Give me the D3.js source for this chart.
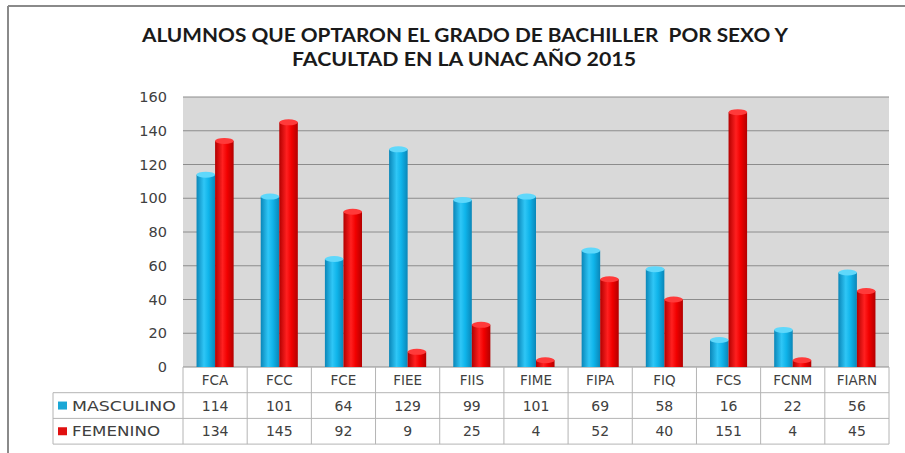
<!DOCTYPE html>
<html>
<head>
<meta charset="utf-8">
<script src="https://cdn.jsdelivr.net/npm/d3@7"></script>
<style>
  body { margin: 0; background: #fff; }
  svg { display: block; }
  text { white-space: pre; }
</style>
</head>
<body>
<svg id="chart" width="905" height="453"></svg>
<script>
// data
var facultades = ['FCA', 'FCC', 'FCE', 'FIEE', 'FIIS', 'FIME', 'FIPA', 'FIQ', 'FCS', 'FCNM', 'FIARN'];
var masculino = [114, 101, 64, 129, 99, 101, 69, 58, 16, 22, 56];
var femenino = [134, 145, 92, 9, 25, 4, 52, 40, 151, 4, 45];
var series = ['MASCULINO', 'FEMENINO'];
var yTicks = [0, 20, 40, 60, 80, 100, 120, 140, 160];
var titulo = ['ALUMNOS QUE OPTARON EL GRADO DE BACHILLER  POR SEXO Y', 'FACULTAD EN LA UNAC AÑO 2015'];

var svg = d3.select('#chart');
// note: "top" clashes with window.top, so plotTop
var plotLeft = 183, plotRight = 889, plotTop = 97, plotBottom = 367;
var rowH = 25.7;
var tableLeft = 53;
var font = 'DejaVu Sans, sans-serif';
var textColor = '#404040';

// outer frame (top and left edges show)
svg.append('line').attr('x1', 8).attr('x2', 905).attr('y1', 6).attr('y2', 6)
    .attr('stroke', '#8a8a8a').attr('stroke-width', 2);
svg.append('line').attr('x1', 8).attr('x2', 8).attr('y1', 6).attr('y2', 453)
    .attr('stroke', '#8a8a8a').attr('stroke-width', 2);

// title
var tl = svg.append('g').attr('font-family', 'Lato, sans-serif').attr('font-weight', 'bold')
    .attr('font-size', 18).attr('fill', '#1a1a1a').attr('text-anchor', 'middle');
tl.append('text').attr('x', 465).attr('y', 42).attr('textLength', 646)
    .attr('lengthAdjust', 'spacingAndGlyphs').text(titulo[0]);
tl.append('text').attr('x', 464).attr('y', 66).attr('textLength', 344)
    .attr('lengthAdjust', 'spacingAndGlyphs').text(titulo[1]);

var x = d3.scaleBand().domain(facultades).range([plotLeft, plotRight]);
var xs = d3.scaleBand().domain(series).range([0, x.bandwidth()])
    .paddingInner(0).paddingOuter(0.73);
var y = d3.scaleLinear().domain([0, 160]).range([plotBottom, plotTop]);

// gradients for the cylinder look
var defs = svg.append('defs');
function grad(id, edge, mid, light) {
    var g = defs.append('linearGradient').attr('id', id).attr('x1', 0).attr('x2', 1).attr('y1', 0).attr('y2', 0);
    g.append('stop').attr('offset', '0%').attr('stop-color', edge);
    g.append('stop').attr('offset', '40%').attr('stop-color', light);
    g.append('stop').attr('offset', '65%').attr('stop-color', mid);
    g.append('stop').attr('offset', '100%').attr('stop-color', edge);
}
grad('gBlue', '#0a86b8', '#0fb4ea', '#2fc6f6');
grad('gRed', '#b30000', '#f20000', '#ff2020');
var fills = { MASCULINO: 'url(#gBlue)', FEMENINO: 'url(#gRed)' };
var caps = { MASCULINO: '#5fd8fb', FEMENINO: '#ff3a3a' };
var keys = { MASCULINO: '#1aa7d6', FEMENINO: '#e01010' };

// plot background
svg.append('rect').attr('x', plotLeft).attr('y', plotTop)
    .attr('width', plotRight - plotLeft).attr('height', plotBottom - plotTop)
    .attr('fill', '#d9d9d9');

// gridlines
svg.append('g').selectAll('line').data(yTicks).join('line')
    .attr('x1', plotLeft).attr('x2', plotRight)
    .attr('y1', function(d) { return y(d); }).attr('y2', function(d) { return y(d); })
    .attr('stroke', '#8c8c8c').attr('stroke-width', 1);

// y axis labels
var yAxis = svg.append('g').attr('transform', 'translate(170,0)')
    .call(d3.axisLeft(y).tickValues(yTicks).tickSize(0).tickPadding(3));
yAxis.select('.domain').remove();
yAxis.selectAll('text').attr('font-family', font).attr('font-size', 14.5).attr('fill', textColor);

// bars
var rows = facultades.map(function(f, i) {
    return { fac: f, vals: [{ s: 'MASCULINO', v: masculino[i] }, { s: 'FEMENINO', v: femenino[i] }] };
});
var grp = svg.append('g').selectAll('g').data(rows).join('g')
    .attr('transform', function(d) { return 'translate(' + x(d.fac) + ',0)'; });
grp.selectAll('rect').data(function(d) { return d.vals; }).join('rect')
    .attr('x', function(d) { return xs(d.s); })
    .attr('y', function(d) { return y(d.v); })
    .attr('width', xs.bandwidth())
    .attr('height', function(d) { return plotBottom - y(d.v); })
    .attr('fill', function(d) { return fills[d.s]; });
grp.selectAll('ellipse').data(function(d) { return d.vals; }).join('ellipse')
    .attr('cx', function(d) { return xs(d.s) + xs.bandwidth() / 2; })
    .attr('cy', function(d) { return y(d.v); })
    .attr('rx', xs.bandwidth() / 2)
    .attr('ry', 3)
    .attr('fill', function(d) { return caps[d.s]; });

// data table
var tb = svg.append('g');
var lineColor = '#b4b4b4';
var hY = [plotBottom + rowH, plotBottom + 2 * rowH, plotBottom + 3 * rowH];
tb.selectAll('line.h').data(hY).join('line').attr('class', 'h')
    .attr('x1', tableLeft).attr('x2', plotRight)
    .attr('y1', function(d) { return d; }).attr('y2', function(d) { return d; })
    .attr('stroke', lineColor);
var vx = facultades.map(function(f) { return x(f); }).concat([plotRight]);
tb.selectAll('line.v').data(vx).join('line').attr('class', 'v')
    .attr('x1', function(d) { return d; }).attr('x2', function(d) { return d; })
    .attr('y1', plotBottom).attr('y2', plotBottom + 3 * rowH)
    .attr('stroke', lineColor);
tb.append('line').attr('x1', tableLeft).attr('x2', tableLeft)
    .attr('y1', plotBottom + rowH).attr('y2', plotBottom + 3 * rowH).attr('stroke', lineColor);

// category labels
tb.selectAll('text.cat').data(facultades).join('text').attr('class', 'cat')
    .attr('x', function(d) { return x(d) + x.bandwidth() / 2; })
    .attr('y', plotBottom + rowH / 2 + 5)
    .attr('text-anchor', 'middle').attr('font-family', font).attr('font-size', 13.5)
    .attr('fill', textColor).text(function(d) { return d; });

// series rows
var tableData = [masculino, femenino];
series.forEach(function(s, r) {
    var cy = plotBottom + (r + 1.5) * rowH;
    tb.append('rect').attr('x', 58).attr('y', cy - 4).attr('width', 9).attr('height', 8)
        .attr('fill', keys[s]);
    tb.append('text').attr('x', 72).attr('y', cy + 5)
        .attr('font-family', font).attr('font-size', 14).attr('fill', textColor)
        .attr('textLength', r === 0 ? 104 : 88).attr('lengthAdjust', 'spacingAndGlyphs')
        .text(s);
    tb.selectAll('text.v' + r).data(tableData[r]).join('text').attr('class', 'v' + r)
        .attr('x', function(d, i) { return x(facultades[i]) + x.bandwidth() / 2; })
        .attr('y', cy + 5)
        .attr('text-anchor', 'middle').attr('font-family', font).attr('font-size', 14)
        .attr('fill', textColor).text(function(d) { return d; });
});
</script>
</body>
</html>
